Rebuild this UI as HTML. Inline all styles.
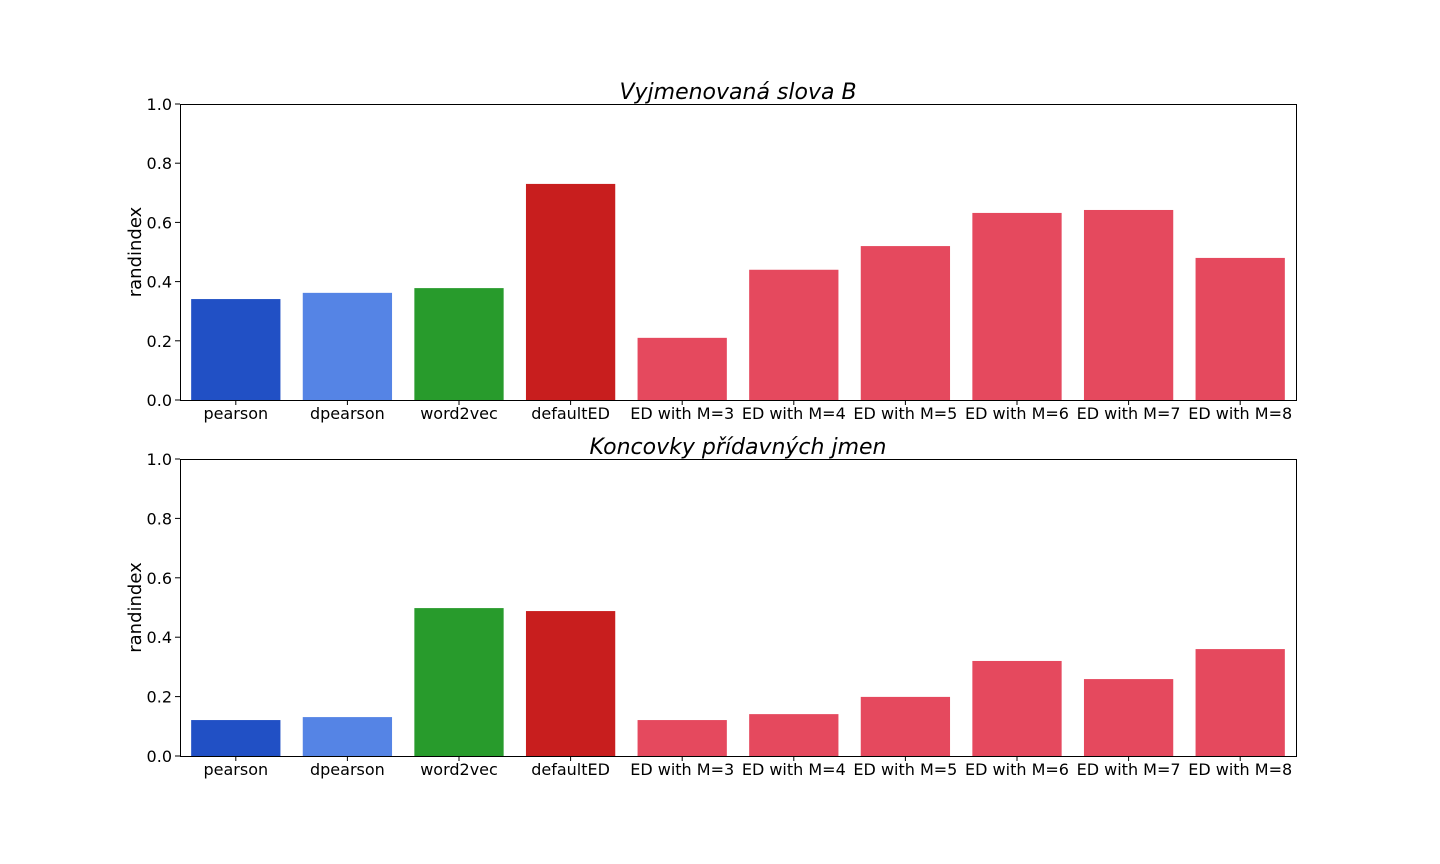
<!DOCTYPE html>
<html><head><meta charset="utf-8"><style>
html,body{margin:0;padding:0;background:#fff;}
svg{display:block;font-family:"DejaVu Sans","Liberation Sans",sans-serif;}
</style></head><body>
<svg id="chart" width="1440" height="864" viewBox="0 0 1440 864"></svg>
<script>
const categories = ["pearson","dpearson","word2vec","defaultED","ED with M=3","ED with M=4","ED with M=5","ED with M=6","ED with M=7","ED with M=8"];
const valuesTop = [0.341,0.362,0.378,0.730,0.210,0.440,0.520,0.632,0.642,0.480];
const valuesBottom = [0.121,0.131,0.498,0.488,0.121,0.141,0.199,0.320,0.259,0.360];
const barColors = ["#2150c5","#5584e5","#289b2c","#c81e1e","#e5495e","#e5495e","#e5495e","#e5495e","#e5495e","#e5495e"];
const yTicks = [0.0,0.2,0.4,0.6,0.8,1.0];
const titles = ["Vyjmenovaná slova B","Koncovky přídavných jmen"];

const svg = document.getElementById('chart');
const NS = 'http://www.w3.org/2000/svg';
function mk(tag, attrs, parent){
  const e = document.createElementNS(NS, tag);
  for (const k in attrs) e.setAttribute(k, attrs[k]);
  parent.appendChild(e); return e;
}
const X0 = 180, X1 = 1296;
function drawPanel(idx, top, bottom, values, title){
  const g = mk('g', {}, svg);
  
  
  const yScale = v => bottom - v * (bottom - top);
  const slot = (X1 - X0) / categories.length;
  const xScale = i => X0 + slot * i;
  values.forEach((v, i) => {
    const r = mk('rect', {x: xScale(i) + slot*0.1, y: yScale(v), width: slot*0.8, height: bottom - yScale(v), fill: barColors[i]}, g);
    
    
    mk('line', {x1: xScale(i)+slot/2, x2: xScale(i)+slot/2, y1: bottom, y2: bottom+5, stroke:'#000','stroke-width':1}, g);
    const t = mk('text', {x: xScale(i)+slot/2, y: bottom+19, 'text-anchor':'middle','font-size':16, fill:'#000'}, g);
    t.textContent = categories[i];
    
    
  });
  yTicks.forEach(v => {
    mk('line', {x1: X0-5, x2: X0, y1: yScale(v), y2: yScale(v), stroke:'#000','stroke-width':1}, g);
    const t = mk('text', {x: X0-8, y: yScale(v)+6, 'text-anchor':'end','font-size':16, fill:'#000'}, g);
    t.textContent = v.toFixed(1);
    
    
  });
  const frame = mk('rect', {x: X0+0.5, y: top+0.5, width: X1-X0, height: bottom-top, fill:'none', stroke:'#000','stroke-width':1}, g);
  
  
  const yl = mk('text', {x: 0, y: 0, transform:`translate(141,${(top+bottom)/2}) rotate(-90)`, 'text-anchor':'middle','font-size':18, fill:'#000'}, g);
  yl.textContent = 'randindex';
  
  
  const tt = mk('text', {x: (X0+X1)/2, y: top-5, 'text-anchor':'middle','font-size':22,'font-style':'italic', fill:'#000'}, g);
  tt.textContent = title;
  
  
}
drawPanel(0, 104, 400, valuesTop, titles[0]);
drawPanel(1, 459, 756, valuesBottom, titles[1]);
</script>
</body></html>
